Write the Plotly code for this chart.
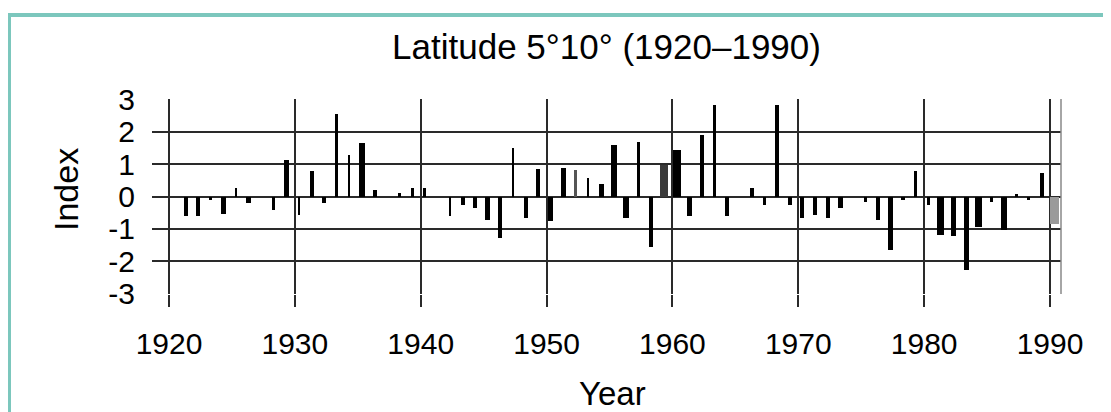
import plotly.graph_objects as go

# ---------------- data ----------------
years = list(range(1921, 1991))
index_values = [
    -0.60, -0.60, -0.10, -0.55, 0.25, -0.20, 0.00, -0.42, 1.12, -0.57,   # 1921-1930
    0.79, -0.20, 2.53, 1.27, 1.65, 0.20, 0.00, 0.10, 0.25, 0.25,          # 1931-1940
    0.00, -0.60, -0.26, -0.34, -0.73, -1.29, 1.50, -0.67, 0.86, -0.75,    # 1941-1950
    0.87, 0.82, 0.58, 0.40, 1.58, -0.66, 1.68, -1.55, 0.98, 1.42,         # 1951-1960
    -0.60, 1.88, 2.81, -0.60, 0.00, 0.27, -0.27, 2.81, -0.27, -0.66,      # 1961-1970
    -0.57, -0.66, -0.35, 0.00, -0.18, -0.73, -1.65, -0.11, 0.80, -0.27,   # 1971-1980
    -1.18, -1.23, -2.27, -0.93, -0.17, -1.04, 0.09, -0.11, 0.71, -0.85,   # 1981-1990
]
decade_ticks = [1920, 1930, 1940, 1950, 1960, 1970, 1980, 1990]
decade_labels = ["1920", "1930", "1940", "1950", "1960", "1970", "1980", "1990"]
y_ticks = [-3, -2, -1, 0, 1, 2, 3]
y_labels = ["-3", "-2", "-1", "0", "1", "2", "3"]

# ---------------- styles ----------------
# bar widths in pixels (as drawn in the original), converted to data units below
bar_px = [
    4, 4, 3, 5, 2, 5, 1, 3, 5, 2,
    4, 4, 3, 2, 6, 4, 1, 3, 3, 3,
    1, 2, 4, 4, 5, 4, 2, 4, 4, 5,
    5, 3, 2, 5, 6, 6, 1.7, 4, 8, 8,
    5, 4, 3.5, 4, 1, 4, 3, 4, 4, 4,
    4, 4, 5, 1, 3, 4, 5, 4, 3.5, 2.5,
    7, 5, 5, 7, 3, 6, 3, 3, 4, 9,
]
grey_years = {1952: "#555555", 1959: "#3a3a3a", 1990: "#9a9a9a"}
bar_colors = [grey_years.get(y, "#000000") for y in years]

# page offset (browser body margin) and layout geometry in window pixels
OFF = 8
WIN_W, WIN_H = 1111, 412
W, H = WIN_W - OFF, WIN_H - OFF
L, R, T, B = 152, 1061, 99, 294
PX_PER_YEAR = (1050 - 169) / 70.0
X0 = 1920 + (L - 169) / PX_PER_YEAR
X1 = 1920 + (R - 169) / PX_PER_YEAR
BAR_OFFSET = 0.33  # bars sit a third of a year to the right of the year line

bar_x = [y + BAR_OFFSET for y in years]
bar_w = [p / PX_PER_YEAR for p in bar_px]

FONT = "Liberation Sans, Arial, sans-serif"
GRID = "#2a2a2a"


def px_x(px):
    return (px - L) / (R - L)


def px_y(py):
    return (B - py) / (B - T)


fig = go.Figure()
fig.add_trace(go.Bar(
    x=bar_x, y=index_values, width=bar_w,
    marker=dict(color=bar_colors, line=dict(width=0)),
    hovertext=[str(y) for y in years], showlegend=False,
))

fig.update_layout(
    width=W, height=H,
    margin=dict(l=L - OFF, r=WIN_W - R, t=T - OFF, b=WIN_H - B, pad=0),
    paper_bgcolor="white", plot_bgcolor="white",
    font=dict(family=FONT, color="black"),
    bargap=0,
    title=dict(
        text="Latitude 5°10° (1920–1990)",
        font=dict(family=FONT, size=35, color="black"),
        x=0.5, xref="paper", xanchor="center",
        y=1 - (47 - OFF) / H, yref="container", yanchor="middle",
    ),
    xaxis=dict(
        range=[X0, X1], tickmode="array", tickvals=decade_ticks, ticktext=decade_labels,
        showgrid=True, gridcolor=GRID, gridwidth=2,
        ticks="outside", ticklen=12, tickwidth=2, tickcolor=GRID,
        tickfont=dict(family=FONT, size=30, color="black"),
        ticklabelstandoff=11,
        zeroline=False, showline=False, fixedrange=True,
    ),
    yaxis=dict(
        range=[-3.001, 3.001], tickmode="array", tickvals=y_ticks, ticktext=y_labels,
        showgrid=True, gridcolor=GRID, gridwidth=2,
        ticks="", tickfont=dict(family=FONT, size=30, color="black"),
        ticklabelstandoff=16,
        zeroline=False, showline=False, fixedrange=True,
    ),
    annotations=[
        dict(text="Index", x=px_x(66), y=px_y(190), xref="paper", yref="paper",
             textangle=-90, showarrow=False, font=dict(family=FONT, size=34, color="black"),
             xanchor="center", yanchor="middle"),
        dict(text="Year", x=px_x(612), y=px_y(393), xref="paper", yref="paper",
             showarrow=False, font=dict(family=FONT, size=33, color="black"),
             xanchor="center", yanchor="middle"),
    ],
    shapes=[
        # right border of plot area
        dict(type="line", xref="paper", yref="paper", x0=1, x1=1, y0=0, y1=1,
             line=dict(color="#888888", width=1.5)),
        # teal frame around the figure
        dict(type="rect", xref="paper", yref="paper",
             x0=px_x(9), x1=px_x(1125), y0=px_y(425), y1=px_y(15),
             line=dict(color="#7cc7bd", width=4), fillcolor="rgba(0,0,0,0)", layer="below"),
    ],
)

fig.write_html("out.html")
